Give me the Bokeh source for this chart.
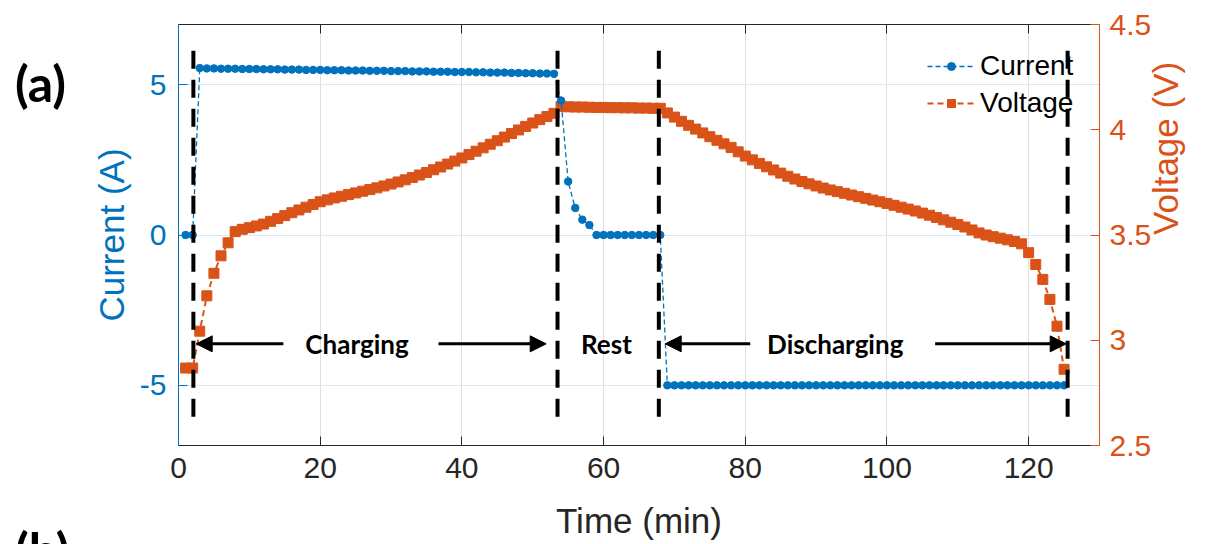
import math
from bokeh.plotting import figure
from bokeh.layouts import row
from bokeh.models import (Range1d, LinearAxis, FixedTicker, CustomJSTickFormatter,
                          Legend, LegendItem, Arrow, NormalHead, ColumnDataSource, Div)
from bokeh.core.properties import value
from bokeh.embed import file_html
from bokeh.resources import INLINE

# ---- measured cycle: one sample per minute ----
time_min = list(range(1, 126))

current_a = [
    0.0, 0.0,
    # constant-current charging
    5.55, 5.54, 5.54, 5.53, 5.53, 5.53, 5.52, 5.52, 5.52, 5.51,
    5.51, 5.51, 5.50, 5.50, 5.50, 5.49, 5.49, 5.49, 5.48, 5.48,
    5.48, 5.47, 5.47, 5.47, 5.46, 5.46, 5.46, 5.45, 5.45, 5.45,
    5.44, 5.44, 5.44, 5.43, 5.43, 5.43, 5.42, 5.42, 5.42, 5.41,
    5.41, 5.40, 5.40, 5.40, 5.39, 5.39, 5.38, 5.38, 5.37, 5.37,
    5.36,
    # taper and rest
    4.47, 1.78, 0.90, 0.51, 0.33, 0.0, 0.0, 0.0, 0.0, 0.0,
    0.0, 0.0, 0.0, 0.0, 0.0,
    # constant-current discharging
    -5.0, -5.0, -5.0, -5.0, -5.0, -5.0, -5.0, -5.0, -5.0, -5.0,
    -5.0, -5.0, -5.0, -5.0, -5.0, -5.0, -5.0, -5.0, -5.0, -5.0,
    -5.0, -5.0, -5.0, -5.0, -5.0, -5.0, -5.0, -5.0, -5.0, -5.0,
    -5.0, -5.0, -5.0, -5.0, -5.0, -5.0, -5.0, -5.0, -5.0, -5.0,
    -5.0, -5.0, -5.0, -5.0, -5.0, -5.0, -5.0, -5.0, -5.0, -5.0,
    -5.0, -5.0, -5.0, -5.0, -5.0, -5.0, -5.0,
]

voltage_v = [
    2.868, 2.868, 3.043, 3.211, 3.318, 3.401, 3.463, 3.516,
    3.527, 3.535, 3.543, 3.552, 3.565, 3.578, 3.592, 3.606, 3.619, 3.632, 3.645, 3.658,
    3.667, 3.676, 3.684, 3.692, 3.700, 3.708, 3.716, 3.724, 3.733, 3.742,
    3.752, 3.762, 3.773, 3.785, 3.797, 3.810, 3.823, 3.837, 3.851, 3.866,
    3.882, 3.898, 3.914, 3.931, 3.948, 3.965, 3.982, 3.999, 4.016, 4.032, 4.048, 4.063, 4.078,
    4.110, 4.109, 4.108, 4.108, 4.107, 4.106, 4.106, 4.105, 4.105, 4.104,
    4.104, 4.103, 4.103, 4.102, 4.102,
    4.080, 4.060, 4.040, 4.021, 4.003, 3.985, 3.967, 3.950, 3.933, 3.916, 3.895,
    3.875, 3.857, 3.840, 3.824, 3.809, 3.794, 3.779, 3.766, 3.754, 3.743,
    3.733, 3.723, 3.714, 3.706, 3.698, 3.690, 3.682, 3.674, 3.666, 3.658,
    3.650, 3.641, 3.632, 3.623, 3.614, 3.604, 3.594, 3.583, 3.572, 3.561,
    3.550, 3.538, 3.524, 3.510, 3.500, 3.492, 3.485, 3.477, 3.469, 3.458,
    3.416, 3.360, 3.289, 3.194, 3.067, 2.862,
]

x_ticks = [0, 20, 40, 60, 80, 100, 120]
current_ticks = [-5, 0, 5]
voltage_ticks = [2.5, 3, 3.5, 4, 4.5]

# phase boundaries and annotations
phase_bounds = [2.1, 53.5, 67.8, 125.5]
phase_names = ["Charging", "Rest", "Discharging"]
phase_label_x = [25.2, 60.4, 92.7]
arrow_tail_x = [14.8, 36.7, 80.7, 106.8]
arrow_head_x = [2.5, 51.9, 68.7, 125.3]
annot_y = -3.62

panel_letters = ["(a)", "(b)"]

BLUE = "#0072BD"
ORANGE = "#D95319"
DARK = "#262626"
AXIS_FONT = "Liberation Sans"
NOTE_FONT = "Lato"

MARGIN_W = 80  # strip left of the figure holding the panel letters

p = figure(width=1207 - MARGIN_W, height=544, x_range=Range1d(0, 130), y_range=Range1d(-7, 7),
           output_backend="svg", toolbar_location=None,
           min_border_left=178 - MARGIN_W, min_border_right=107,
           min_border_top=24, min_border_bottom=99)
p.margin = 0
p.extra_y_ranges = {"v": Range1d(2.5, 4.5)}
p.outline_line_color = None
p.background_fill_color = "white"
p.border_fill_color = "white"

fmt = CustomJSTickFormatter(code="return String(tick);")


def style_axis(ax, color, ticks):
    ax.ticker = FixedTicker(ticks=ticks)
    ax.formatter = fmt
    ax.axis_line_color = color
    ax.major_tick_line_color = color
    ax.major_tick_in = 9
    ax.major_tick_out = 0
    ax.minor_tick_line_color = None
    ax.major_label_text_color = color
    ax.major_label_text_font = AXIS_FONT
    ax.major_label_text_font_size = "30px"
    ax.axis_label_text_color = color
    ax.axis_label_text_font = AXIS_FONT
    ax.axis_label_text_font_size = "35px"
    ax.axis_label_text_font_style = "normal"


xb = p.xaxis[0]
style_axis(xb, DARK, x_ticks)
xb.axis_label = "Time (min)"
xb.major_label_standoff = 12
xb.axis_label_standoff = 20

yl = p.yaxis[0]
style_axis(yl, BLUE, current_ticks)
yl.axis_label = "Current (A)"
yl.major_label_standoff = 12
yl.axis_label_standoff = 6

yr = LinearAxis(y_range_name="v")
style_axis(yr, ORANGE, voltage_ticks)
yr.axis_label = "Voltage (V)"
yr.axis_label_orientation = math.pi / 2
yr.axis_label_text_baseline = "top"
yr.major_label_standoff = 10
yr.axis_label_standoff = 11
p.add_layout(yr, "right")

xt = LinearAxis()
style_axis(xt, DARK, x_ticks)
xt.formatter = CustomJSTickFormatter(code="return '';")
xt.major_label_standoff = 0
p.add_layout(xt, "above")

p.xgrid.ticker = FixedTicker(ticks=x_ticks)
p.xgrid.grid_line_color = "#dfdfdf"
p.ygrid.ticker = FixedTicker(ticks=current_ticks)
p.ygrid.grid_line_color = "#d9e9f5"

# voltage (right axis)
v_line = p.line(time_min, voltage_v, y_range_name="v", line_color=ORANGE,
                line_width=2, line_dash="6 4")
v_pts = p.scatter(time_min, voltage_v, y_range_name="v", marker="square", size=10,
                  fill_color=ORANGE, line_color=ORANGE)

# current (left axis)
c_line = p.line(time_min, current_a, line_color=BLUE, line_width=1.3, line_dash="5 3")
c_pts = p.scatter(time_min, current_a, marker="circle", size=7.5,
                  fill_color=BLUE, line_color=BLUE)

# phase boundaries
n_b = len(phase_bounds)
p.segment(x0=phase_bounds, y0=[6.13] * n_b, x1=phase_bounds, y1=[-6.1] * n_b,
          line_color="black", line_width=4, line_dash="18 11")

arrows = ColumnDataSource(dict(x_start=arrow_tail_x, y_start=[annot_y] * len(arrow_tail_x),
                               x_end=arrow_head_x, y_end=[annot_y] * len(arrow_head_x)))
p.add_layout(Arrow(end=NormalHead(size=16, fill_color="black", line_color="black"),
                   source=arrows, x_start="x_start", y_start="y_start",
                   x_end="x_end", y_end="y_end", line_width=3, line_color="black"))

p.text(x=phase_label_x, y=[annot_y] * len(phase_label_x), text=phase_names,
       text_font=value(NOTE_FONT), text_font_style="bold", text_font_size="26px",
       text_align="center", text_baseline="middle", text_color="black")

legend = Legend(items=[LegendItem(label="Current", renderers=[c_line, c_pts]),
                       LegendItem(label="Voltage", renderers=[v_line, v_pts])],
                location=(749, 324), orientation="vertical",
                border_line_color=None, background_fill_alpha=0,
                padding=0, margin=0, spacing=0, glyph_width=48, glyph_height=20,
                label_height=37, label_standoff=5,
                label_text_font=AXIS_FONT, label_text_font_size="28px",
                label_text_color="black")
p.add_layout(legend)

# panel letters in a narrow strip to the left of the figure
letter_tops = [53, 520]
spans = "".join(
    f'<span style="position:absolute;left:15px;top:{t}px;line-height:60px;">{s}</span>'
    for s, t in zip(panel_letters, letter_tops))
letters = Div(
    text=(f'<div style="position:relative;width:{MARGIN_W}px;height:544px;overflow:hidden;'
          f'font-family:{NOTE_FONT};font-weight:bold;font-size:50px;color:black;">'
          f'{spans}</div>'),
    width=MARGIN_W, height=544, margin=0)

layout = row(letters, p, spacing=0)

open("out.html", "w").write(file_html(layout, INLINE))
